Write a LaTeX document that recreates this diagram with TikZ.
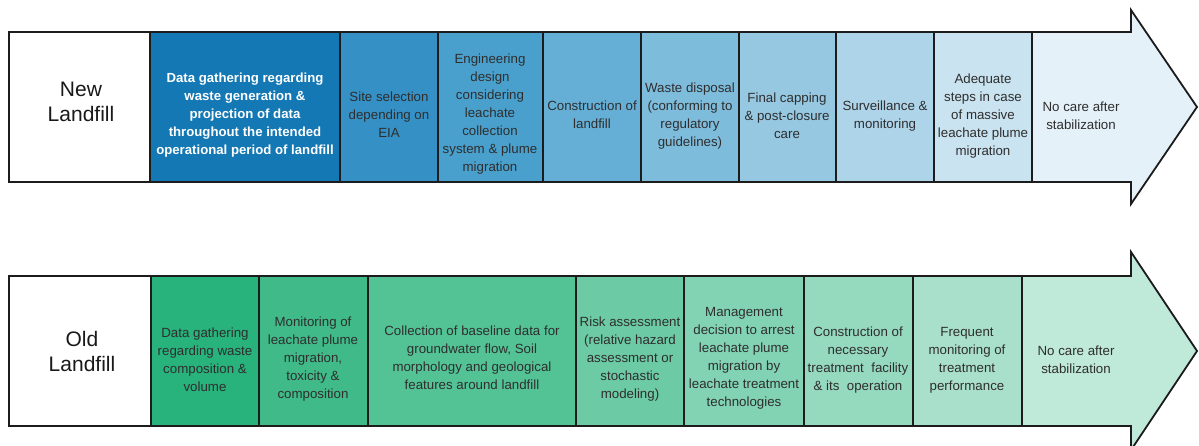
\documentclass[tikz,border=0pt]{standalone}
\usepackage{fontspec}
\setmainfont{Liberation Sans}
\definecolor{bA}{HTML}{1478B4}
\definecolor{bB}{HTML}{3591C5}
\definecolor{bC}{HTML}{4AA0CD}
\definecolor{bD}{HTML}{65AFD6}
\definecolor{bE}{HTML}{7EBCDC}
\definecolor{bF}{HTML}{96C8E2}
\definecolor{bG}{HTML}{AED4E9}
\definecolor{bH}{HTML}{CAE3F0}
\definecolor{bI}{HTML}{E5F1F8}
\definecolor{gA}{HTML}{28B27C}
\definecolor{gB}{HTML}{3FBA88}
\definecolor{gC}{HTML}{53C396}
\definecolor{gD}{HTML}{6CCAA4}
\definecolor{gE}{HTML}{82D3B3}
\definecolor{gF}{HTML}{95D9BF}
\definecolor{gG}{HTML}{A9E0CB}
\definecolor{gH}{HTML}{BFE9D9}
\definecolor{rim}{HTML}{1C1C1C}
\begin{document}
\begin{tikzpicture}[x=1pt,y=-1pt,
    outline/.style={draw=rim,line width=1.8pt,line join=miter},
    divider/.style={draw=rim,line width=1.3pt},
    txt/.style={align=center,font=\fontsize{13.3}{18}\selectfont,text=black!82},
    boldtxt/.style={txt,font=\fontsize{13.2}{18}\selectfont\bfseries,text=white},
    label/.style={align=center,font=\fontsize{21}{25}\selectfont,text=black!90}]
\useasboundingbox (0,0) rectangle (1199,446);
% new landfill arrow
\fill[bI] (9,32) -- (1131,32) -- (1131,10) -- (1197,107) -- (1131,204) -- (1131,182) -- (9,182) -- cycle;
\fill[white] (9,32) rectangle (150,182);
\fill[bA] (150,32) rectangle (340,182);
\fill[bB] (340,32) rectangle (438,182);
\fill[bC] (438,32) rectangle (543,182);
\fill[bD] (543,32) rectangle (641,182);
\fill[bE] (641,32) rectangle (739,182);
\fill[bF] (739,32) rectangle (836,182);
\fill[bG] (836,32) rectangle (934,182);
\fill[bH] (934,32) rectangle (1032,182);
\foreach \x in {150,340,438,543,641,739,836,934,1032}
    \draw[divider] (\x,32) -- (\x,182);
\draw[outline] (9,32) -- (1131,32) -- (1131,10) -- (1197,107) -- (1131,204) -- (1131,182) -- (9,182) -- cycle;
\node[label] (newlf) at (81,102) {New\\Landfill};
\node[boldtxt] (ngather) at (245,115) {Data gathering regarding\\waste generation \&\\projection of data\\throughout the intended\\operational period of landfill};
\node[txt] (nsite) at (389,115) {Site selection\\depending on\\EIA};
\node[txt] (ndesign) at (490,114) {Engineering\\design\\considering\\leachate\\collection\\system \& plume\\migration};
\node[txt] (nbuild) at (592,115) {Construction of\\landfill};
\node[txt] (ndispose) at (690,116) {Waste disposal\\(conforming to\\regulatory\\guidelines)};
\node[txt] (ncap) at (787,116) {Final capping\\\& post-closure\\care};
\node[txt] (nwatch) at (885,116) {Surveillance \&\\monitoring};
\node[txt] (nsteps) at (983,116) {Adequate\\steps in case\\of massive\\leachate plume\\migration};
\node[txt] (nend) at (1081,116) {No care after\\stabilization};
% old landfill arrow
\fill[gH] (9,276) -- (1131,276) -- (1131,252) -- (1197,351) -- (1131,450) -- (1131,426) -- (9,426) -- cycle;
\fill[white] (9,276) rectangle (151,426);
\fill[gA] (151,276) rectangle (259,426);
\fill[gB] (259,276) rectangle (368,426);
\fill[gC] (368,276) rectangle (576,426);
\fill[gD] (576,276) rectangle (684,426);
\fill[gE] (684,276) rectangle (804,426);
\fill[gF] (804,276) rectangle (913,426);
\fill[gG] (913,276) rectangle (1022,426);
\foreach \x in {151,259,368,576,684,804,913,1022}
    \draw[divider] (\x,276) -- (\x,426);
\draw[outline] (9,276) -- (1131,276) -- (1131,252) -- (1197,351) -- (1131,450) -- (1131,426) -- (9,426) -- cycle;
\node[label] (oldlf) at (82,351) {Old\\Landfill};
\node[txt] (ogather) at (205,360) {Data gathering\\regarding waste\\composition \&\\volume};
\node[txt] (omonitor) at (313,359) {Monitoring of\\leachate plume\\migration,\\toxicity \&\\composition};
\node[txt] (obase) at (472,358) {Collection of baseline data for\\groundwater flow, Soil\\morphology and geological\\features around landfill};
\node[txt] (orisk) at (630,359) {Risk assessment\\(relative hazard\\assessment or\\stochastic\\modeling)};
\node[txt] (odecide) at (744,358) {Management\\decision to arrest\\leachate plume\\migration by\\leachate treatment\\technologies};
\node[txt] (obuild) at (858,360) {Construction of\\necessary\\treatment\ \ facility\\\& its\ \ operation};
\node[txt] (ofreq) at (967,360) {Frequent\\monitoring of\\treatment\\performance};
\node[txt] (oend) at (1076,360) {No care after\\stabilization};
\end{tikzpicture}
\end{document}
